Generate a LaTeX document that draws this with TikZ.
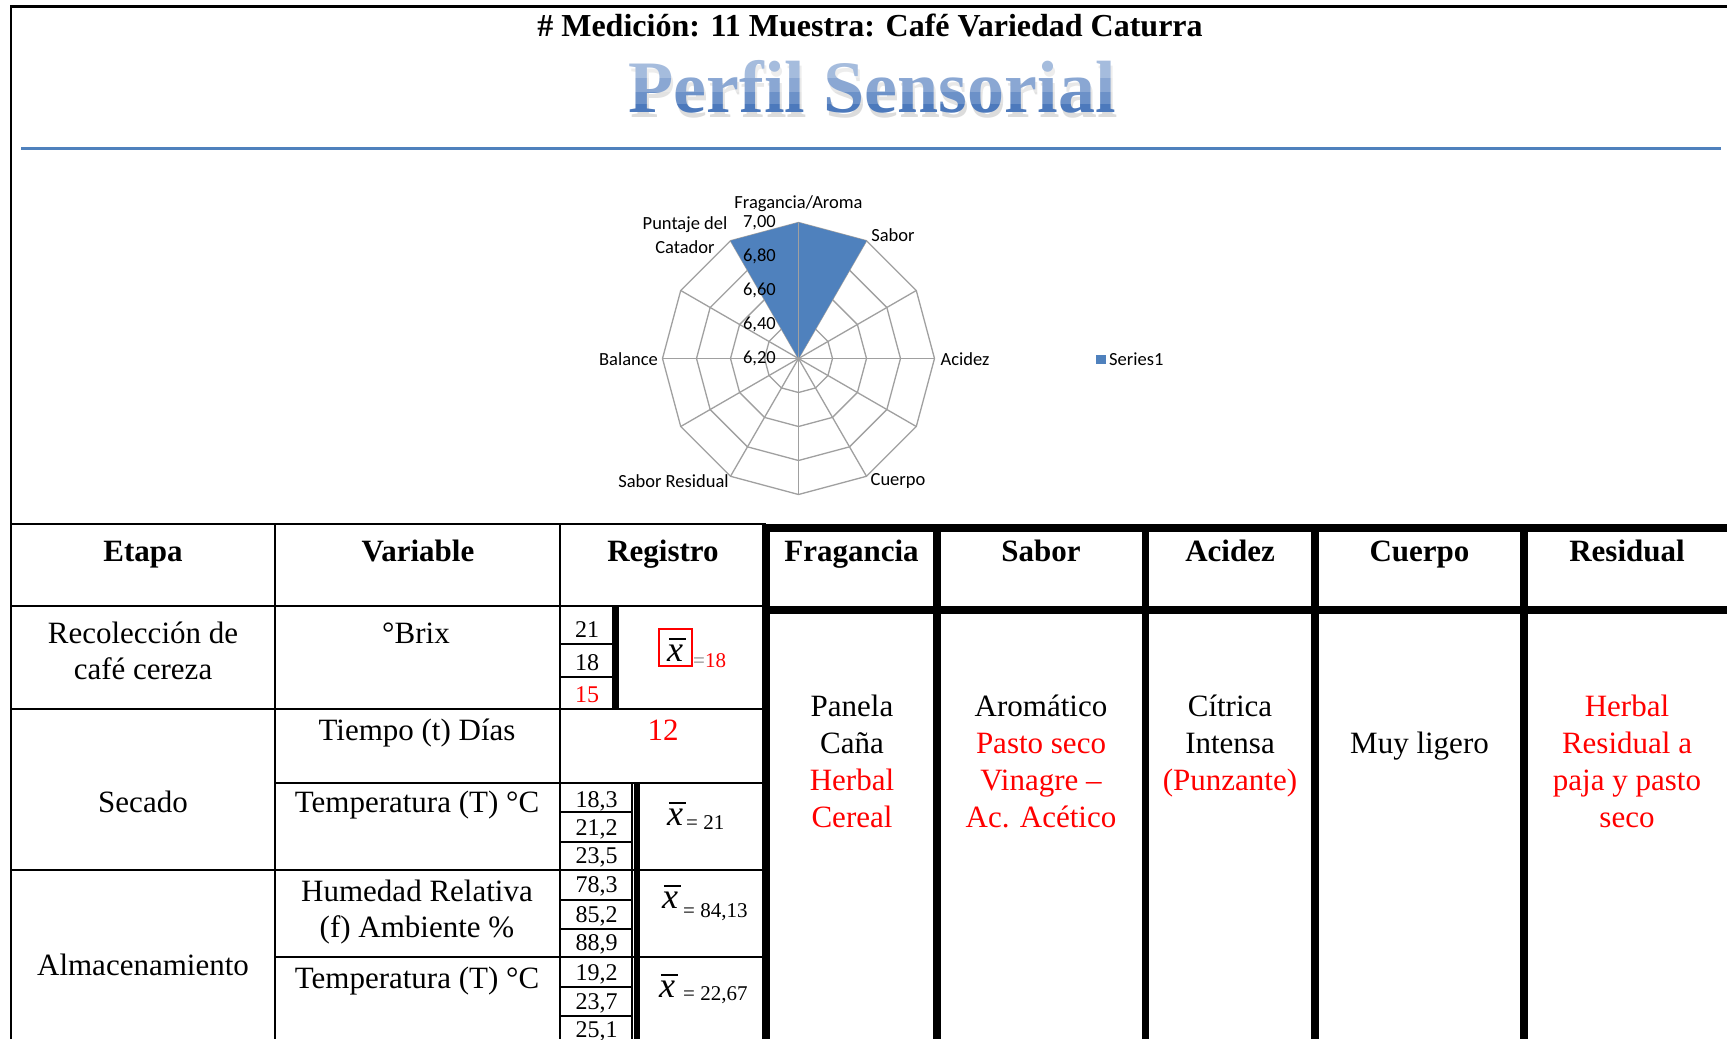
\documentclass[tikz,border=0pt]{standalone}
\usepackage{fontspec}
\setmainfont{Liberation Serif}
\newfontfamily\chartfont{Carlito}
\usetikzlibrary{calc}
\definecolor{chartblue}{HTML}{4F81BD}
\definecolor{gridgray}{HTML}{A0A0A0}
\definecolor{ttlD}{HTML}{4C79BC}
\definecolor{redtxt}{HTML}{FF0000}
\newcommand\hdf{\fontsize{31}{37}\selectfont\bfseries}
\newcommand\bdf{\fontsize{31}{37}\selectfont}
\newcommand\numf{\fontsize{24}{28}\selectfont}
\newcommand\eqf{\fontsize{21}{25}\selectfont}
\newcommand\chf{\chartfont\fontsize{18.5}{23.7}\selectfont}
\newcommand\ttlf{\fontsize{74}{80}\selectfont\bfseries}
\begin{document}
\begin{tikzpicture}[x=1pt,y=-1pt,
  thinrule/.style={line width=2pt},
  thickrule/.style={line width=7pt},
  gridline/.style={draw=gridgray, line width=1.3pt},
  lbl/.style={inner sep=0pt, anchor=base},
  hd/.style={lbl, font=\hdf},
  bd/.style={lbl, font=\bdf},
  bdr/.style={bd, text=redtxt},
  num/.style={lbl, font=\numf},
  eq/.style={lbl, anchor=base west, font=\eqf},
  xb/.style={lbl, font=\fontsize{36}{36}\selectfont},
  ch/.style={inner sep=0pt, font=\chf},
  xbarline/.style={line width=1.6pt},
]
\useasboundingbox (0,0) rectangle (1727,1039);
\fill[white] (0,0) rectangle (1727,1039);
% frame and rule
\draw[line width=2.5pt] (11,1039) -- (11,6.5) -- (1727,6.5);
\draw[chartblue, line width=3.5pt] (21,148.5) -- (1721,148.5);
% titles
\node[lbl, font=\fontsize{32}{38}\selectfont\bfseries] (head) at (870,36) {\# Medición: 11 Muestra: Café Variedad Caturra};
\node[lbl, font=\ttlf, text=black!45, opacity=0.3] (ttlshadow) at (874,117) {Perfil Sensorial};
\node[lbl, font=\ttlf, text=ttlD] (ttl) at (872,112) {Perfil Sensorial};
\fill[white, opacity=0.5] (500,40) rectangle (1250,78);
\fill[white, opacity=0.35] (500,78) rectangle (1250,92);
\fill[white, opacity=0.18] (500,92) rectangle (1250,104);
% radar chart
\coordinate (C) at (798.5,358.5);
\begin{scope}[shift={(C)}]
  \foreach \r in {34,68,102,136}{
    \draw[gridline] (0:\r) \foreach \a in {30,60,...,330}{ -- (\a:\r)} -- cycle;
  }
  \foreach \a in {0,30,...,330} \draw[gridline] (0,0) -- (\a:136);
  \fill[chartblue] (0,0) -- (-120:136) -- (-90:136) -- (-60:136) -- cycle;
  \draw[gridline] (0,0) -- (-90:136);
\end{scope}
\node[ch, anchor=east] (t0) at (776,358.5) {6,20};
\node[ch, anchor=east] (t1) at (776,324.5) {6,40};
\node[ch, anchor=east] (t2) at (776,290.5) {6,60};
\node[ch, anchor=east] (t3) at (776,256.5) {6,80};
\node[ch, anchor=east] (t4) at (776,222.5) {7,00};
\node[ch] (lfrag) at (798.5,204) {Fragancia/Aroma};
\node[ch, align=center] (lpunt) at (685,235) {Puntaje del\\Catador};
\node[ch] (lsab) at (893,235) {Sabor};
\node[ch] (lacid) at (965,359) {Acidez};
\node[ch] (lcuer) at (898,481) {Cuerpo};
\node[ch] (lres) at (673.5,481) {Sabor Residual};
\node[ch] (lbal) at (628.5,359) {Balance};
\fill[chartblue] (1096,355) rectangle (1106,364);
\node[ch, anchor=west] (lser) at (1109,359) {Series1};
% left table rules
\draw[thinrule] (11,524) -- (766,524);
\draw[thinrule] (275,524) -- (275,1039);
\draw[thinrule] (560,524) -- (560,1039);
\draw[thinrule] (11,606) -- (766,606);
\draw[thinrule] (11,709) -- (766,709);
\draw[thinrule] (275,783) -- (766,783);
\draw[thinrule] (11,870) -- (766,870);
\draw[thinrule] (275,957) -- (766,957);
\draw[thinrule] (560,644) -- (612,644);
\draw[thinrule] (560,677) -- (612,677);
\draw[thickrule] (615.5,606) -- (615.5,709);
\foreach \yy in {812,842,900,929,987,1016} \draw[thinrule] (560,\yy) -- (632,\yy);
\draw[thinrule] (632,783) -- (632,1039);
\draw[line width=6pt] (637,783) -- (637,1039);
% right table rules
\foreach \xx in {766,937,1145.5,1315,1524} \draw[line width=7.5pt] (\xx,524.5) -- (\xx,1039);
\draw[line width=7.5pt] (762.5,528) -- (1727,528);
\draw[line width=7.5pt] (762.5,610) -- (1727,610);
% headers
\node[hd] (hEtapa) at (143,561) {Etapa};
\node[hd] (hVar) at (418,561) {Variable};
\node[hd] (hReg) at (663,561) {Registro};
\node[hd] (hFrag) at (851.5,561) {Fragancia};
\node[hd] (hSab) at (1041,561) {Sabor};
\node[hd] (hAcid) at (1230,561) {Acidez};
\node[hd] (hCuer) at (1419.5,561) {Cuerpo};
\node[hd] (hRes) at (1627,561) {Residual};
% left body
\node[bd] (e1a) at (143,643) {Recolección de};
\node[bd] (e1b) at (143,679) {café cereza};
\node[bd] (e2) at (143,812) {Secado};
\node[bd] (e3) at (143,975) {Almacenamiento};
\node[bd] (v1) at (416,643) {°Brix};
\node[bd] (v2) at (417,740) {Tiempo (t) Días};
\node[bd] (v3) at (417,812) {Temperatura (T) °C};
\node[bd] (v4a) at (417,901) {Humedad Relativa};
\node[bd] (v4b) at (417,937) {(f) Ambiente \%};
\node[bd] (v5) at (417,988) {Temperatura (T) °C};
\node[bdr] (r12) at (663,740) {12};
% small values
\node[num] (n1) at (587,637) {21};
\node[num] (n2) at (587,670) {18};
\node[num, text=redtxt] (n3) at (587,702) {15};
\node[num] (n4) at (596.5,807) {18,3};
\node[num] (n5) at (596.5,835) {21,2};
\node[num] (n6) at (596.5,863) {23,5};
\node[num] (n7) at (596.5,892) {78,3};
\node[num] (n8) at (596.5,922) {85,2};
\node[num] (n9) at (596.5,950) {88,9};
\node[num] (n10) at (596.5,980) {19,2};
\node[num] (n11) at (596.5,1009) {23,7};
\node[num] (n12) at (596.5,1037) {25,1};
% means
\node[draw=redtxt, line width=2pt, minimum width=33pt, minimum height=37pt, inner sep=0pt] (bxbox) at (675.5,647.5) {};
\node[xb] (xa) at (675,661) {\textit{x}};
\draw[xbarline] ([xshift=2pt,yshift=5pt]xa.north west) -- ([xshift=3pt,yshift=5pt]xa.north east);
\node[eq] (ea) at (693,667) {{\color{gray}=}{\color{redtxt}18}};
\node[xb] (xs) at (675,825) {\textit{x}};
\draw[xbarline] ([xshift=2pt,yshift=5pt]xs.north west) -- ([xshift=3pt,yshift=5pt]xs.north east);
\node[eq] (es) at (686,829) {= 21};
\node[xb] (xh) at (670,908) {\textit{x}};
\draw[xbarline] ([xshift=2pt,yshift=5pt]xh.north west) -- ([xshift=3pt,yshift=5pt]xh.north east);
\node[eq] (eh) at (683,917) {= 84,13};
\node[xb] (xt) at (667,997) {\textit{x}};
\draw[xbarline] ([xshift=2pt,yshift=5pt]xt.north west) -- ([xshift=3pt,yshift=5pt]xt.north east);
\node[eq] (et) at (683,1000) {= 22,67};
% right body
\node[bd] (f1) at (852,716) {Panela};
\node[bd] (f2) at (852,753) {Caña};
\node[bdr] (f3) at (852,790) {Herbal};
\node[bdr] (f4) at (852,827) {Cereal};
\node[bd] (s1) at (1041,716) {Aromático};
\node[bdr] (s2) at (1041,753) {Pasto seco};
\node[bdr] (s3) at (1041,790) {Vinagre –};
\node[bdr] (s4) at (1041,827) {Ac. Acético};
\node[bd] (a1) at (1230,716) {Cítrica};
\node[bd] (a2) at (1230,753) {Intensa};
\node[bdr] (a3) at (1230,790) {(Punzante)};
\node[bd] (c1) at (1419.5,753) {Muy ligero};
\node[bdr] (rs1) at (1627,716) {Herbal};
\node[bdr] (rs2) at (1627,753) {Residual a};
\node[bdr] (rs3) at (1627,790) {paja y pasto};
\node[bdr] (rs4) at (1627,827) {seco};
\end{tikzpicture}
\end{document}
